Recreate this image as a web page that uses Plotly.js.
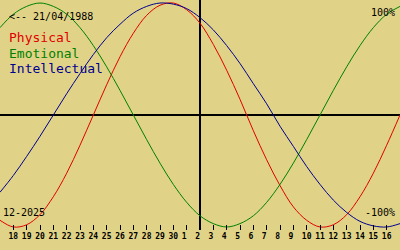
<!DOCTYPE html>
<html><head><meta charset="utf-8">
<script src="https://cdn.plot.ly/plotly-3.0.1.min.js"></script>
<style>html,body{margin:0;padding:0;background:#e0d387;}#chart{width:400px;height:250px;}</style>
</head><body><div id="chart"></div>
<script>
// day index -1 .. 29 (index 0 = 18 Nov, index 14 = 2 Dec 2025 = today)
const dayIndex = [-1,0,1,2,3,4,5,6,7,8,9,10,11,12,13,14,15,16,17,18,19,20,21,22,23,24,25,26,27,28,29];
const dayLabels = ['18','19','20','21','22','23','24','25','26','27','28','29','30','1','2','3','4','5','6','7','8','9','10','11','12','13','14','15','16'];
const physical = [-0.94,-1.00,-0.98,-0.89,-0.73,-0.52,-0.27,0.00,0.27,0.52,0.73,0.89,0.98,1.00,0.94,0.82,0.63,0.40,0.14,-0.14,-0.40,-0.63,-0.82,-0.94,-1.00,-0.98,-0.89,-0.73,-0.52,-0.27,0.00];
const emotional = [0.78,0.90,0.97,1.00,0.97,0.90,0.78,0.62,0.43,0.22,0.00,-0.22,-0.43,-0.62,-0.78,-0.90,-0.97,-1.00,-0.97,-0.90,-0.78,-0.62,-0.43,-0.22,0.00,0.22,0.43,0.62,0.78,0.90,0.97];
const intellectual = [-0.69,-0.54,-0.37,-0.19,0.00,0.19,0.37,0.54,0.69,0.81,0.91,0.97,1.00,0.99,0.95,0.87,0.76,0.62,0.46,0.28,0.10,-0.10,-0.28,-0.46,-0.62,-0.76,-0.87,-0.95,-0.99,-1.00,-0.97];
const todayIndex = 14;
const seriesNames = ['Physical','Emotional','Intellectual'];
const seriesColors = ['#e00000','#008000','#000090'];

const xs = dayIndex.map(d => d - todayIndex);
const tickVals = dayLabels.map((_, i) => i - todayIndex);
const tickText = dayLabels.map(s => s.length === 1 ? s + '\u00a0' : s);

const traces = [physical, emotional, intellectual].map((ys, k) => ({
  x: xs, y: ys, type: 'scatter', mode: 'lines', name: seriesNames[k],
  line: {color: seriesColors[k], width: 1, shape: 'spline', smoothing: 1}, hoverinfo: 'skip'
}));

const mono = 'DejaVu Sans Mono, monospace';
function ann(text, x, y, xanchor, size, color) {
  return {text, xref: 'paper', yref: 'paper', x: x / 400, y: 1 - y / 230, xanchor, yanchor: 'middle',
    showarrow: false, borderpad: 0, borderwidth: 0, font: {family: mono, size, color}};
}
const annotations = [
  ann('&lt;-- 21/04/1988', 9, 16.5, 'left', 10, '#000'),
  ann(seriesNames[0], 9, 38, 'left', 13, seriesColors[0]),
  ann(seriesNames[1], 9, 53, 'left', 13, seriesColors[1]),
  ann(seriesNames[2], 9, 68, 'left', 13, seriesColors[2]),
  ann('100%', 395, 12, 'right', 10, '#000'),
  ann('-100%', 395, 212.5, 'right', 10, '#000'),
  ann('12-2025', 3, 212.5, 'left', 10, '#000')
];

const layout = {
  width: 400, height: 250,
  margin: {l: 0, r: 0, t: 0, b: 20, pad: 0},
  paper_bgcolor: '#e0d387', plot_bgcolor: '#e0d387',
  showlegend: false,
  xaxis: {range: [-15, 15], tickvals: tickVals, ticktext: tickText, ticks: 'inside', ticklen: 5, tickwidth: 1,
    tickcolor: '#000', showgrid: false, showline: false, zeroline: true, zerolinecolor: '#000', zerolinewidth: 2,
    tickfont: {family: mono, size: 8, color: '#000', weight: 'bold'}, ticklabelstandoff: 0, fixedrange: true},
  yaxis: {range: [-1.027, 1.027], showticklabels: false, ticks: '', showgrid: false, showline: false,
    zeroline: true, zerolinecolor: '#000', zerolinewidth: 2, fixedrange: true},
  annotations
};
Plotly.newPlot('chart', traces, layout, {staticPlot: true, displayModeBar: false});
</script></body></html>
